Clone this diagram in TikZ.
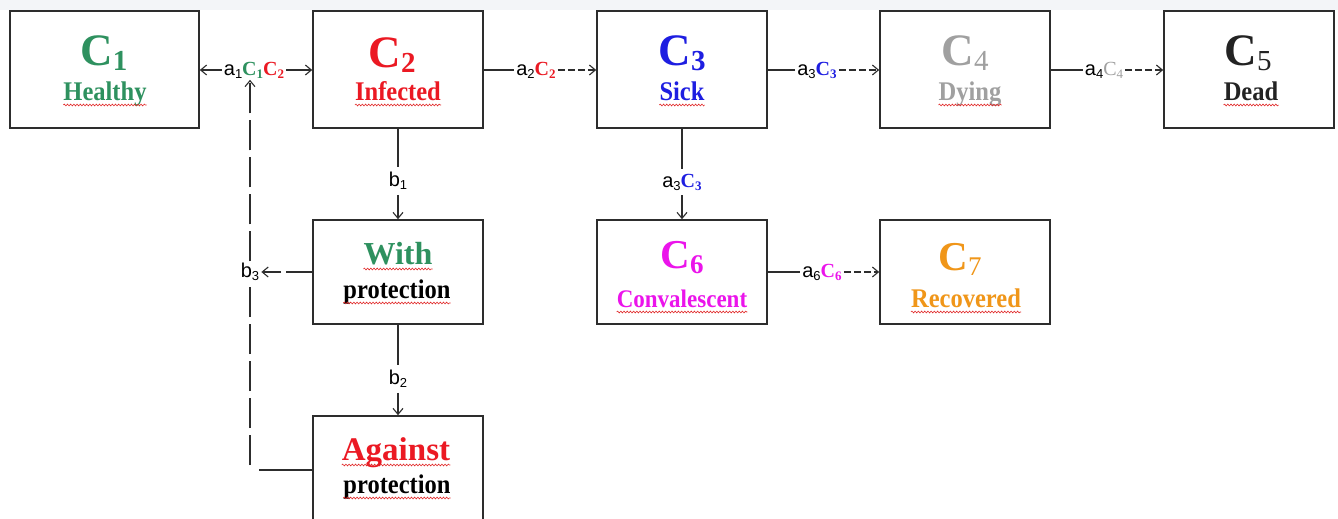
\documentclass[tikz,border=0pt]{standalone}
\usepackage{fontspec}
\setmainfont{Liberation Serif}
\newfontfamily\labfont{Liberation Sans}
\usetikzlibrary{arrows.meta,decorations.pathmorphing}

\definecolor{cgreen}{RGB}{46,145,95}
\definecolor{cred}{RGB}{235,25,35}
\definecolor{cblue}{RGB}{30,30,225}
\definecolor{cgray}{RGB}{160,160,160}
\definecolor{cdark}{RGB}{35,35,35}
\definecolor{cmag}{RGB}{235,20,235}
\definecolor{corange}{RGB}{240,150,25}
\definecolor{band}{RGB}{243,245,248}
\definecolor{edge}{RGB}{45,45,45}
\definecolor{wave}{RGB}{225,40,40}

% compartment symbol C with index, large (top row) and medium (lower rows)
\newcommand\bigc[2][\bfseries]{\fontsize{45}{45}\selectfont\bfseries C\raisebox{-5pt}{\fontsize{29}{29}\selectfont#1#2}}
\newcommand\midc[2][\bfseries]{\fontsize{41}{41}\selectfont\bfseries C\raisebox{-5pt}{\fontsize{27}{27}\selectfont#1#2}}
\newcommand\word[1]{\fontsize{24.5}{24.5}\selectfont\bfseries\scalebox{1}[1.1]{#1}}
% rate symbols on the connectors
\newcommand\ra[1]{{\labfont a\raisebox{-3pt}{\fontsize{13}{13}\selectfont #1}}}
\newcommand\rb[1]{{\labfont b\raisebox{-3pt}{\fontsize{13}{13}\selectfont #1}}}
\newcommand\cc[2]{\textcolor{#1}{\bfseries C\raisebox{-3pt}{\fontsize{13}{13}\selectfont #2}}}

\begin{document}
\begin{tikzpicture}[x=1pt,y=-1pt,
  box/.style={draw=edge, line width=1.6pt, minimum width=170pt, minimum height=117pt, inner sep=0pt},
  mid/.style={box, minimum height=104pt},
  title/.style={anchor=base, inner sep=0pt},
  tag/.style={inner xsep=2pt, inner ysep=1.5pt, font=\fontsize{20}{20}\selectfont, text=black},
  vtag/.style={tag, inner ysep=5pt},
  conn/.style={draw=edge, line width=1.1pt},
  tip/.style={conn, -{Straight Barb[length=6pt,width=10pt,line width=1.1pt]}},
  fine/.style={dash pattern=on 7pt off 3pt},
  wavy/.style={draw=wave, line width=0.6pt, decorate, decoration={snake, amplitude=0.9pt, segment length=3.2pt}},
]
\clip (0,0) rectangle (1338,519);
\fill[white] (0,0) rectangle (1338,519);
\fill[band] (0,0) rectangle (1338,10);

% compartments
\node[box, minimum width=189pt] (c1) at (104.5,69.5) {};
\node[box] (c2) at (398,69.5) {};
\node[box] (c3) at (682,69.5) {};
\node[box] (c4) at (965,69.5) {};
\node[box] (c5) at (1249,69.5) {};
\node[mid] (wp) at (398,272) {};
\node[mid] (c6) at (682,272) {};
\node[mid] (c7) at (965,272) {};
\node[mid, minimum height=114pt] (ap) at (398,473) {};

% compartment captions
\node[title, text=cgreen] (t1) at (104,66) {\bigc{1}};
\node[title, text=cgreen] (s1) at (105,100) {\word{Healthy}};
\node[title, text=cred] (t2) at (392,67) {\bigc{2}};
\node[title, text=cred] (s2) at (398,100) {\word{Infected}};
\node[title, text=cblue] (t3) at (682,66) {\bigc{3}};
\node[title, text=cblue] (s3) at (682,100) {\word{Sick}};
\node[title, text=cgray] (t4) at (965,66) {\bigc[\mdseries]{4}};
\node[title, text=cgray] (s4) at (970,100) {\word{Dying}};
\node[title, text=cdark] (t5) at (1248,66) {\bigc[\mdseries]{5}};
\node[title, text=cdark] (s5) at (1251,100) {\word{Dead}};
\node[title, text=cgreen] (w1) at (398,264) {\fontsize{32}{32}\selectfont\bfseries With};
\node[title, text=black] (w2) at (397,298) {\word{protection}};
\node[title, text=cmag] (t6) at (682,268) {\midc{6}};
\node[title, text=cmag] (s6) at (682,307) {\fontsize{23}{23}\selectfont\bfseries\scalebox{1}[1.1]{Convalescent}};
\node[title, text=corange] (t7) at (960,270) {\midc[\mdseries]{7}};
\node[title, text=corange] (s7) at (966,307) {\word{Recovered}};
\node[title, text=cred] (a1) at (396,460) {\fontsize{33}{33}\selectfont\bfseries Against};
\node[title, text=black] (a2) at (397,493) {\word{protection}};

\foreach \n in {s1,s2,s3,s4,s5,w1,w2,s6,s7,a1,a2}
  \draw[wavy] ([yshift=-5pt]\n.base west) -- ([yshift=-5pt]\n.base east);

% rate labels
\node[tag] (l1) at (254,70) {\ra{1}\cc{cgreen}{1}\cc{cred}{2}};
\node[tag] (l2) at (536,70) {\ra{2}\cc{cred}{2}};
\node[tag] (l3) at (817,70) {\ra{3}\cc{cblue}{3}};
\node[tag] (l4) at (1104,70) {\ra{4}\textcolor{cgray}{C\raisebox{-3pt}{\fontsize{13}{13}\selectfont 4}}};
\node[tag] (l6) at (822,272) {\ra{6}\cc{cmag}{6}};
\node[vtag] (l7) at (682,182) {\ra{3}\cc{cblue}{3}};
\node[vtag] (lb1) at (398,181) {\rb{1}};
\node[vtag] (lb2) at (398,379) {\rb{2}};
\node[tag] (lb3) at (250,272) {\rb{3}};
\coordinate (corner) at (250,470);

% horizontal transitions
\draw[tip] (l1.west) -- (c1.east |- l1);
\draw[tip] (l1.east) -- (c2.west |- l1);
\draw[conn] (c2.east |- l2) -- (l2.west);
\draw[tip, fine] (l2.east) -- (c3.west |- l2);
\draw[conn] (c3.east |- l3) -- (l3.west);
\draw[tip, fine] (l3.east) -- (c4.west |- l3);
\draw[conn] (c4.east |- l4) -- (l4.west);
\draw[tip, fine] (l4.east) -- (c5.west |- l4);
\draw[conn] (c6.east |- l6) -- (l6.west);
\draw[tip, fine] (l6.east) -- (c7.west |- l6);

% vertical transitions
\draw[conn] (c2.south -| lb1) -- (lb1.north);
\draw[tip] (lb1.south) -- (wp.north -| lb1);
\draw[conn] (c3.south) -- (l7.north);
\draw[tip] (l7.south) -- (c6.north);
\draw[conn] (wp.south -| lb2) -- (lb2.north);
\draw[tip] (lb2.south) -- (ap.north -| lb2);

% protection feedback loop
\draw[tip, dash pattern=on 26pt off 5pt on 30pt off 5pt] (wp.west |- lb3) -- (lb3.east);
\draw[conn, dash pattern=on 53pt off 20pt] (ap.west |- corner) -- (corner);
\draw[conn, dash pattern=on 30pt off 7pt] ([yshift=5pt]corner) -- (lb3.south);
\draw[tip, dash pattern=on 30pt off 7pt] (lb3.north) -- (lb3.north |- l1.south);
\end{tikzpicture}
\end{document}
